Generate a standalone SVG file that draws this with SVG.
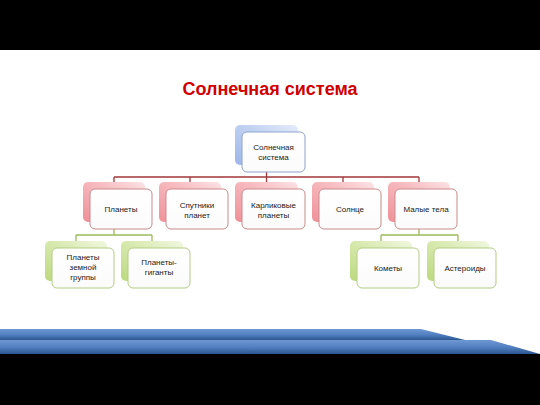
<svg xmlns="http://www.w3.org/2000/svg" width="540" height="405" viewBox="0 0 540 405">
<defs>
<linearGradient id="gBlue" x1="0" y1="1" x2="1" y2="0"><stop offset="0" stop-color="#9db6ea"/><stop offset="0.6" stop-color="#c3d3f2"/><stop offset="1" stop-color="#e6edfa"/></linearGradient>
<linearGradient id="gRed" x1="0" y1="1" x2="1" y2="0"><stop offset="0" stop-color="#ef9098"/><stop offset="0.6" stop-color="#f7bcc1"/><stop offset="1" stop-color="#fde3e5"/></linearGradient>
<linearGradient id="gGreen" x1="0" y1="1" x2="1" y2="0"><stop offset="0" stop-color="#bcd97e"/><stop offset="0.6" stop-color="#dbebb5"/><stop offset="1" stop-color="#f1f7e1"/></linearGradient>
<linearGradient id="gFront" x1="0" y1="0" x2="0" y2="1"><stop offset="0" stop-color="#ffffff"/><stop offset="1" stop-color="#fbfbfb"/></linearGradient>
<linearGradient id="gBand" x1="0" y1="0" x2="0" y2="1"><stop offset="0" stop-color="#6f97d2"/><stop offset="0.5" stop-color="#5381c2"/><stop offset="1" stop-color="#2c5690"/></linearGradient>
</defs>
<style>
.sb{fill:url(#gBlue)}
.sr{fill:url(#gRed)}
.sg{fill:url(#gGreen)}
.fb,.fr,.fg{fill:url(#gFront);stroke-width:1}
.fb{stroke:#8fa4cc}
.fr{stroke:#c98a8d}
.fg{stroke:#b3cc84}
.t{font-family:"Liberation Sans",Arial,sans-serif;font-size:8px;fill:#1a1a1a;text-anchor:middle}
.cr{stroke:#a3373a;stroke-width:1.3;fill:none}
.cg{stroke:#9bbb59;stroke-width:1.3;fill:none}
</style>
<rect x="0" y="0" width="540" height="405" fill="#000"/>
<rect x="0" y="50" width="540" height="304" fill="#fff"/>
<polygon points="0,329 421,329 465,340 0,340" fill="url(#gBand)"/>
<polygon points="0,340 491,340 540,354 0,354" fill="url(#gBand)"/>
<text x="270" y="95" font-family="'Liberation Sans',Arial,sans-serif" font-size="18" font-weight="bold" fill="#d00000" text-anchor="middle">Солнечная система</text>
<g id="connectors">
<path class="cr" d="M266.5 165V177M114 177H419M114 177V182M190 177V182M266.5 177V182M343 177V182M419 177V182"/>
<path class="cg" d="M114 222V235M76 235H152M76 235V242M152 235V242"/>
<path class="cg" d="M419 222V235M381 235H458M381 235V242M458 235V242"/>
</g>
<g id="root">
<rect class="sb" x="235" y="125" width="63" height="40" rx="5"/>
<rect class="fb" x="242" y="132" width="63" height="40" rx="5"/>
<text class="t" x="273.5" y="150">Солнечная</text>
<text class="t" x="273.5" y="160">система</text>
</g>
<g id="planets">
<rect class="sr" x="83" y="182" width="62" height="40" rx="5"/>
<rect class="fr" x="90" y="189" width="62" height="40" rx="5"/>
<text class="t" x="121" y="212">Планеты</text>
</g>
<g id="satellites">
<rect class="sr" x="159" y="182" width="62" height="40" rx="5"/>
<rect class="fr" x="166" y="189" width="62" height="40" rx="5"/>
<text class="t" x="197" y="208">Спутники</text>
<text class="t" x="197" y="218">планет</text>
</g>
<g id="dwarf">
<rect class="sr" x="235" y="182" width="63" height="40" rx="5"/>
<rect class="fr" x="242" y="189" width="63" height="40" rx="5"/>
<text class="t" x="273.5" y="208">Карликовые</text>
<text class="t" x="273.5" y="218">планеты</text>
</g>
<g id="sun">
<rect class="sr" x="312" y="182" width="62" height="40" rx="5"/>
<rect class="fr" x="319" y="189" width="62" height="40" rx="5"/>
<text class="t" x="350" y="212">Солнце</text>
</g>
<g id="small">
<rect class="sr" x="388" y="182" width="62" height="40" rx="5"/>
<rect class="fr" x="395" y="189" width="62" height="40" rx="5"/>
<text class="t" x="426" y="212">Малые тела</text>
</g>
<g id="terrestrial">
<rect class="sg" x="45" y="241" width="62" height="40" rx="5"/>
<rect class="fg" x="52" y="248" width="62" height="40" rx="5"/>
<text class="t" x="83" y="260">Планеты</text>
<text class="t" x="83" y="270">земной</text>
<text class="t" x="83" y="280">группы</text>
</g>
<g id="giants">
<rect class="sg" x="121" y="241" width="62" height="40" rx="5"/>
<rect class="fg" x="128" y="248" width="62" height="40" rx="5"/>
<text class="t" x="159" y="265">Планеты-</text>
<text class="t" x="159" y="275">гиганты</text>
</g>
<g id="comets">
<rect class="sg" x="350" y="241" width="62" height="40" rx="5"/>
<rect class="fg" x="357" y="248" width="62" height="40" rx="5"/>
<text class="t" x="388" y="271">Кометы</text>
</g>
<g id="asteroids">
<rect class="sg" x="427" y="241" width="62" height="40" rx="5"/>
<rect class="fg" x="434" y="248" width="62" height="40" rx="5"/>
<text class="t" x="465" y="271">Астероиды</text>
</g>
</svg>
